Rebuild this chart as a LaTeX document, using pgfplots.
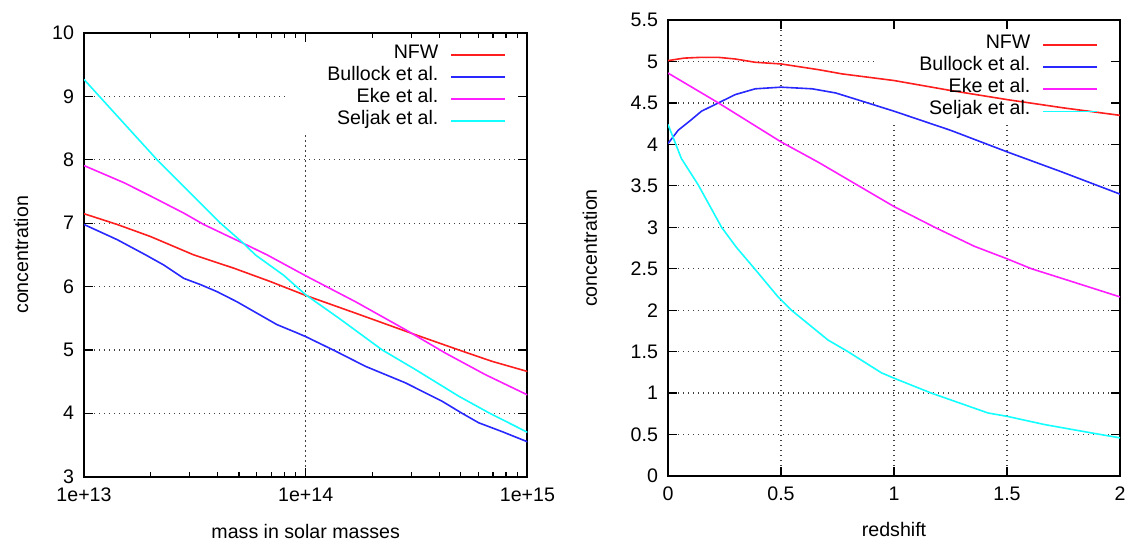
\documentclass[border=0pt]{standalone}
\usepackage{pgfplots}
\pgfplotsset{compat=1.18}
\usepackage{fontspec}
\setmainfont{Liberation Sans}
\pgfdeclarelayer{blank}
\pgfplotsset{
 layers/gp/.define layer set={axis background,axis grid,blank,axis ticks,axis lines,axis tick labels,pre main,main,axis descriptions,axis foreground}{
   grid style={/pgfplots/on layer=axis grid},
   tick style={/pgfplots/on layer=axis ticks},
   axis line style={/pgfplots/on layer=axis lines},
   label style={/pgfplots/on layer=axis descriptions},
   legend style={/pgfplots/on layer=axis descriptions},
   title style={/pgfplots/on layer=axis descriptions},
   colorbar style={/pgfplots/on layer=axis descriptions},
   ticklabel style={/pgfplots/on layer=axis tick labels},
   axis background@ style={/pgfplots/on layer=axis background},
   3d box foreground style={/pgfplots/on layer=axis foreground},
 },
}
\definecolor{gpred}{RGB}{255,30,30}
\definecolor{gpblue}{RGB}{40,40,255}
\definecolor{gpmag}{RGB}{255,30,255}
\definecolor{gpcyan}{RGB}{20,255,255}
\pgfplotsset{
 gpstyle/.style={
   set layers=gp,
   scale only axis,
   font=\fontsize{9.8}{11}\selectfont,
   /pgf/number format/assume math mode=true,
   tick align=inside,
   major tick length=4.5pt,
   minor tick length=2.5pt,
   every tick/.style={black, line width=0.6pt},
   axis line style={line width=1pt},
   grid=major,
   major grid style={black!75, line width=0.6pt, dash pattern=on 0.6pt off 1.9pt},
   xticklabel style={yshift=-2pt},
   yticklabel style={xshift=-1.5pt},
   legend plot pos=right,
   legend cell align=right,
   legend image code/.code={\draw[#1] (0pt,0pt) -- (27pt,0pt);},
   legend style={draw=none, fill=none, inner sep=0pt, outer sep=0pt,
     row sep=0pt, column sep=6pt, font=\fontsize{9.8}{11}\selectfont,
     nodes={inner sep=0pt, text height=7.3pt, text depth=3.75pt}},
   every axis plot/.append style={line width=0.8pt, no markers},
 },
}
\begin{document}
\begin{tikzpicture}
\begin{axis}[gpstyle,
  at={(42pt,31.7pt)}, anchor=south west,
  width=221.7pt, height=221.7pt,
  xmode=log, xmin=1e13, xmax=1e15, ymin=3, ymax=10,
  xtick={1e13,1e14,1e15}, xticklabels={1e+13,1e+14,1e+15},
  minor xtick={2e13,3e13,4e13,5e13,6e13,7e13,8e13,9e13,2e14,3e14,4e14,5e14,6e14,7e14,8e14,9e14},
  ytick={3,4,5,6,7,8,9,10},
  xlabel={mass in solar masses}, ylabel={concentration},
  every axis x label/.style={at={(axis description cs:0.5,-0.124)}, anchor=center},
  every axis y label/.style={at={(axis description cs:-0.142,0.5)}, anchor=center, rotate=90},
  legend style={at={(axis description cs:1,1)}, anchor=north east, xshift=-10.7pt, yshift=-5.3pt},
]
\pgfplotsextra{\begin{pgfonlayer}{blank}
\fill[white] (rel axis cs:0.46,0.777) rectangle (rel axis cs:1,1);
\end{pgfonlayer}}
\addplot[gpred] coordinates {
(1e13,7.15) (1.413e13,6.98) (1.995e13,6.79) (3.126e13,6.50) (4.742e13,6.29) (6.918e13,6.08) (1e14,5.86) (1.679e14,5.58) (3.126e14,5.24) (4.898e14,5.0) (6.918e14,4.82) (1e15,4.66)};
\addlegendentry{NFW}
\addplot[gpblue] coordinates {
(1e13,6.98) (1.413e13,6.74) (1.897e13,6.50) (2.291e13,6.34) (2.818e13,6.13) (3.357e13,6.03) (3.981e13,5.92) (4.898e13,5.76) (6.026e13,5.58) (7.413e13,5.40) (9.12e13,5.27) (1e14,5.21) (1.365e14,4.98) (1.862e14,4.74) (2.818e14,4.48) (4.121e14,4.19) (5.07e14,4.0) (6.026e14,3.85) (7.69e14,3.71) (1e15,3.55)};
\addlegendentry{Bullock et al.}
\addplot[gpmag] coordinates {
(1e13,7.91) (1.514e13,7.64) (1.995e13,7.43) (2.818e13,7.16) (3.467e13,6.98) (5.248e13,6.68) (6.699e13,6.50) (1e14,6.17) (1.679e14,5.76) (2.818e14,5.32) (4.266e14,4.95) (6.457e14,4.61) (1e15,4.29)};
\addlegendentry{Eke et al.}
\addplot[gpcyan] coordinates {
(1e13,9.27) (2.138e13,8.0) (4.13e13,7.0) (5.248e13,6.68) (5.93e13,6.50) (7.943e13,6.18) (1e14,5.87) (1.413e14,5.50) (2.213e14,5.0) (3.126e14,4.69) (4.898e14,4.27) (6.761e14,4.0) (1e15,3.70)};
\addlegendentry{Seljak et al.}
\end{axis}

\begin{axis}[gpstyle,
  at={(334pt,32pt)}, anchor=south west,
  width=226pt, height=228pt,
  xmin=0, xmax=2, ymin=0, ymax=5.5,
  xtick={0,0.5,1,1.5,2}, ytick={0,0.5,1,1.5,2,2.5,3,3.5,4,4.5,5,5.5},
  xticklabels={0,0.5,1,1.5,2},
  yticklabels={0,0.5,1,1.5,2,2.5,3,3.5,4,4.5,5,5.5},
  xlabel={redshift}, ylabel={concentration},
  every axis x label/.style={at={(axis description cs:0.5,-0.118)}, anchor=center},
  every axis y label/.style={at={(axis description cs:-0.1726,0.5)}, anchor=center, rotate=90},
  legend style={at={(axis description cs:1,1)}, anchor=north east, xshift=-11pt, yshift=-7pt},
]
\pgfplotsextra{\begin{pgfonlayer}{blank}
\fill[white] (rel axis cs:0.462,0.776) rectangle (rel axis cs:1,1);
\end{pgfonlayer}}
\addplot[gpred] coordinates {
(0,5.01) (0.07,5.04) (0.148,5.05) (0.22,5.05) (0.297,5.03) (0.386,4.99) (0.5,4.97) (0.668,4.90) (0.77,4.85) (1.0,4.77) (1.25,4.65) (1.5,4.54) (1.75,4.44) (2.0,4.35)};
\addlegendentry{NFW}
\addplot[gpblue] coordinates {
(0,4.01) (0.045,4.17) (0.1,4.29) (0.148,4.40) (0.223,4.50) (0.297,4.60) (0.386,4.67) (0.5,4.69) (0.638,4.67) (0.742,4.62) (0.86,4.52) (1.0,4.40) (1.25,4.17) (1.5,3.91) (1.74,3.67) (2.0,3.40)};
\addlegendentry{Bullock et al.}
\addplot[gpmag] coordinates {
(0,4.86) (0.223,4.50) (0.5,4.03) (0.668,3.78) (1.0,3.25) (1.18,3.0) (1.356,2.77) (1.5,2.62) (1.608,2.5) (1.77,2.36) (2.0,2.16)};
\addlegendentry{Eke et al.}
\addplot[gpcyan] coordinates {
(0,4.24) (0.059,3.83) (0.134,3.51) (0.237,3.00) (0.302,2.76) (0.383,2.5) (0.487,2.16) (0.546,2.0) (0.708,1.64) (0.796,1.5) (0.944,1.245) (1.0,1.18) (1.165,1.0) (1.416,0.76) (1.5,0.72) (1.667,0.62) (1.873,0.52) (2.0,0.46)};
\addlegendentry{Seljak et al.}
\end{axis}
\pgfresetboundingbox
\path[use as bounding box] (0,0) rectangle (563.5pt,270pt);
\end{tikzpicture}
\end{document}
